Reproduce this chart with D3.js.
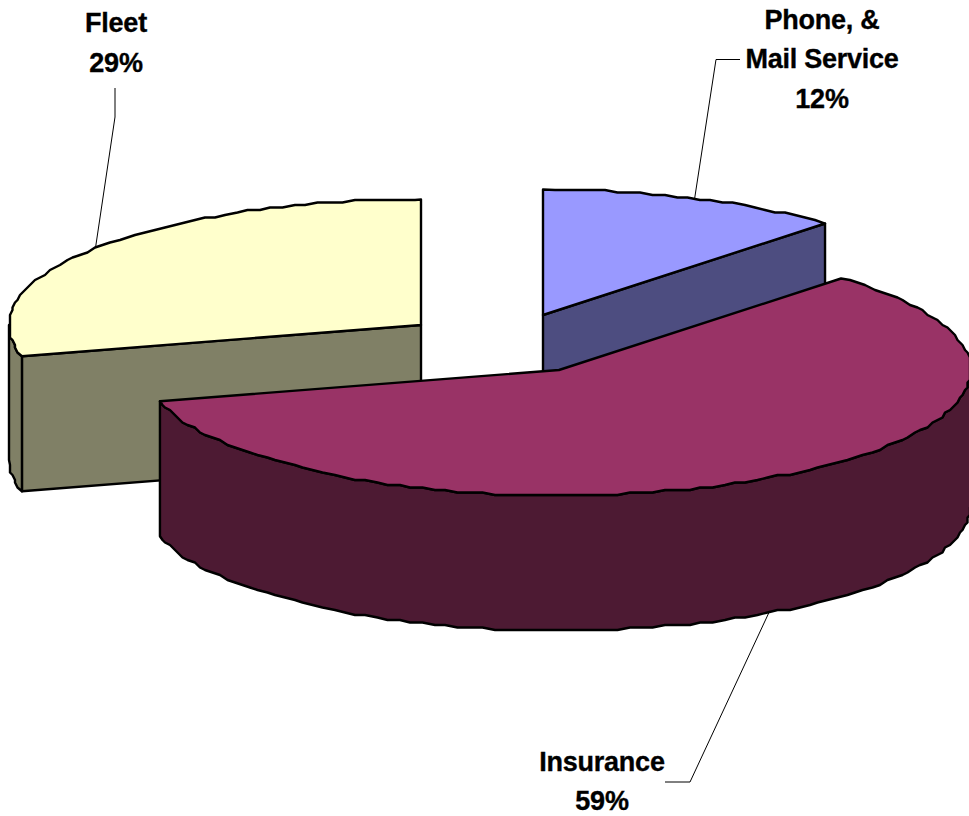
<!DOCTYPE html>
<html>
<head>
<meta charset="utf-8">
<script src="https://cdn.jsdelivr.net/npm/d3@7"></script>
<style>
  html, body { margin: 0; padding: 0; background: #fff; }
  svg { display: block; }
  text { font-family: "Liberation Sans", Arial, sans-serif; font-weight: 700; font-size: 27px; fill: #000; stroke: #000; stroke-width: 0.35px; text-anchor: middle; letter-spacing: -0.25px; }
</style>
</head>
<body>
<svg id="chart" width="969" height="816"></svg>
<script>
// Share of cost per category
const categories = ["Phone, & Mail Service", "Insurance", "Fleet"];
const shares = [12, 59, 29];
const percentLabels = ["12%", "59%", "29%"];

// Fill colours: top face and the darker side walls
const topColors = ["#9999ff", "#993366", "#ffffcc"];
const sideColors = ["#4d4d80", "#4d1a33", "#808066"];

// Exploded wedge centres on the page
const wedgeCentersX = [543, 559, 421];
const wedgeCentersY = [315, 370, 325];

// Label lines and where each block of text sits
const labelLines = [["Phone, &", "Mail Service", "12%"], ["Insurance", "59%"], ["Fleet", "29%"]];
const labelCentersX = [822, 602, 116];
const labelBaselinesY = [[29, 68, 108], [771, 810], [32, 72]];
const leaderElbows = [[716, 59.5], [690, 782], [115, 117]];
const leaderEnds = [[740, 59.5], [665, 782], [115, 88]];

const radiusX = 412, radiusY = 125.5, depth = 135, gridSize = 2.5, stepAngle = 0.03;

const svg = d3.select("#chart");
const unitX = d3.scaleLinear().domain([-1, 1]).range([-radiusX, radiusX]);
const unitY = d3.scaleLinear().domain([-1, 1]).range([-radiusY, radiusY]);
const depthScale = d3.scaleLinear().domain([0, 1]).range([0, depth]);

const arcs = d3.pie().sort(null).value(d => d)(shares);

// Projects a pie angle (clockwise from the top) on to the tilted disc
const project = (i, a, level = 0) => [
  wedgeCentersX[i] + unitX(Math.sin(a)),
  wedgeCentersY[i] + unitY(-Math.cos(a)) + depthScale(level)
];

// Outer rim points, snapped to a coarse grid for the stepped edge of the drawing.
// Angles come from a shared lattice so the wall and top face trace the same edge.
function rim(i, a0, a1, level = 0) {
  const first = Math.ceil(a0 / stepAngle + 0.3), last = Math.floor(a1 / stepAngle - 0.3);
  const angles = d3.range(first, last + 1).map(k => k * stepAngle);
  const snap = p => [Math.round(p[0] / gridSize) * gridSize, Math.round(p[1] / gridSize) * gridSize];
  return [project(i, a0, level), ...angles.map(a => snap(project(i, a, level))), project(i, a1, level)];
}

const line = d3.line();
const closed = pts => line(pts) + "Z";
const shape = { stroke: "#000", "stroke-width": 2.4, "stroke-linejoin": "round" };

function face(d, color) {
  const p = svg.append("path").attr("d", d).attr("fill", color);
  Object.entries(shape).forEach(([k, v]) => p.attr(k, v));
}

function drawWedge(i) {
  const { startAngle: a0, endAngle: a1 } = arcs[i];
  const apex = [wedgeCentersX[i], wedgeCentersY[i]];
  const apexLow = [apex[0], apex[1] + depth];

  // Flat cut faces that turn toward the viewer
  if (i === 0) face(closed([apex, project(i, a1), project(i, a1, 1), apexLow]), sideColors[i]);
  if (i === 2) face(closed([apex, project(i, a0), project(i, a0, 1), apexLow]), sideColors[i]);

  // Front part of the curved outer wall
  const wallFrom = Math.max(a0, Math.PI / 2), wallTo = Math.min(a1, 3 * Math.PI / 2);
  if (wallFrom < wallTo) {
    const upper = rim(i, wallFrom, wallTo, 0);
    const lower = rim(i, wallFrom, wallTo, 1).reverse();
    face(closed([...upper, ...lower]), sideColors[i]);
  }

  // Top face
  face(closed([apex, ...rim(i, a0, a1, 0)]), topColors[i]);
}

// Back wedges first so the Insurance slice overlaps them
[2, 0, 1].forEach(drawWedge);

// Leader lines run from the rim at each slice's mid angle to the label
arcs.forEach((arc, i) => {
  const mid = (arc.startAngle + arc.endAngle) / 2;
  const frontFacing = Math.cos(mid) < 0;
  const start = project(i, mid, frontFacing ? 1 : 0);
  svg.append("path")
    .attr("d", line([start, leaderElbows[i], leaderEnds[i]]))
    .attr("fill", "none").attr("stroke", "#000").attr("stroke-width", 1);
});

// Category and percentage labels
labelLines.forEach((lines, i) => {
  lines.forEach((t, j) => {
    svg.append("text").attr("x", labelCentersX[i]).attr("y", labelBaselinesY[i][j]).text(t);
  });
});
</script>
</body>
</html>
